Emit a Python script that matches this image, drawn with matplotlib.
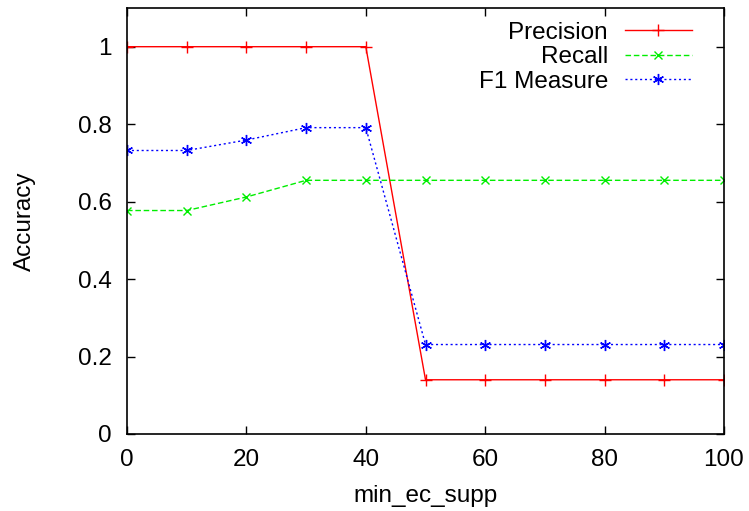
import matplotlib
matplotlib.use("Agg")
import matplotlib.pyplot as plt

plt.rcParams['font.family'] = ['Liberation Sans', 'DejaVu Sans']

# Data
supp = [0, 10, 20, 30, 40, 50, 60, 70, 80, 90, 100]
precision = [1.0, 1.0, 1.0, 1.0, 1.0, 0.14, 0.14, 0.14, 0.14, 0.14, 0.14]
recall = [0.577, 0.577, 0.612, 0.655, 0.655, 0.655, 0.655, 0.655, 0.655, 0.655, 0.655]
f1 = [0.732, 0.732, 0.759, 0.791, 0.791, 0.231, 0.231, 0.231, 0.231, 0.231, 0.231]

fs = 17.5

fig = plt.figure(figsize=(7.49, 5.11), dpi=100)
ax = fig.add_axes([0.1696, 0.1507, 0.797, 0.8337])

ax.plot(supp, precision, color="#ff0000", lw=1, ls="-", marker="+",
        ms=9, mew=1, label="Precision")
ax.plot(supp, recall, color="#00ee00", lw=1, ls=(0, (4, 2)), marker="x",
        ms=6, mew=1, label="Recall")
ax.plot(supp, f1, color="#0000ff", lw=1, ls=(0, (1.5, 2)), marker=(6, 2, 0),
        ms=8, mew=1, label="F1 Measure")

ax.set_xlim(0, 100)
ax.set_ylim(0, 1.1)
ax.set_xticks([0, 20, 40, 60, 80, 100])
ax.set_yticks([0, 0.2, 0.4, 0.6, 0.8, 1.0])
ax.set_yticklabels(["0", "0.2", "0.4", "0.6", "0.8", "1"])
ax.tick_params(direction="in", top=True, right=True, length=6, width=1,
               labelsize=fs)
ax.tick_params(axis="x", pad=11)
ax.tick_params(axis="y", pad=11)
for s in ax.spines.values():
    s.set_linewidth(1.2)

ax.set_xlabel("min_ec_supp", fontsize=fs, labelpad=10)
ax.set_ylabel("Accuracy", fontsize=fs, labelpad=30)

ax.legend(loc="upper right", frameon=False, markerfirst=False, fontsize=fs,
          handlelength=2.75, borderpad=0, borderaxespad=0, labelspacing=0.1,
          handletextpad=0.7, bbox_to_anchor=(0.946, 0.968))

fig.savefig("out.png", dpi=100)
